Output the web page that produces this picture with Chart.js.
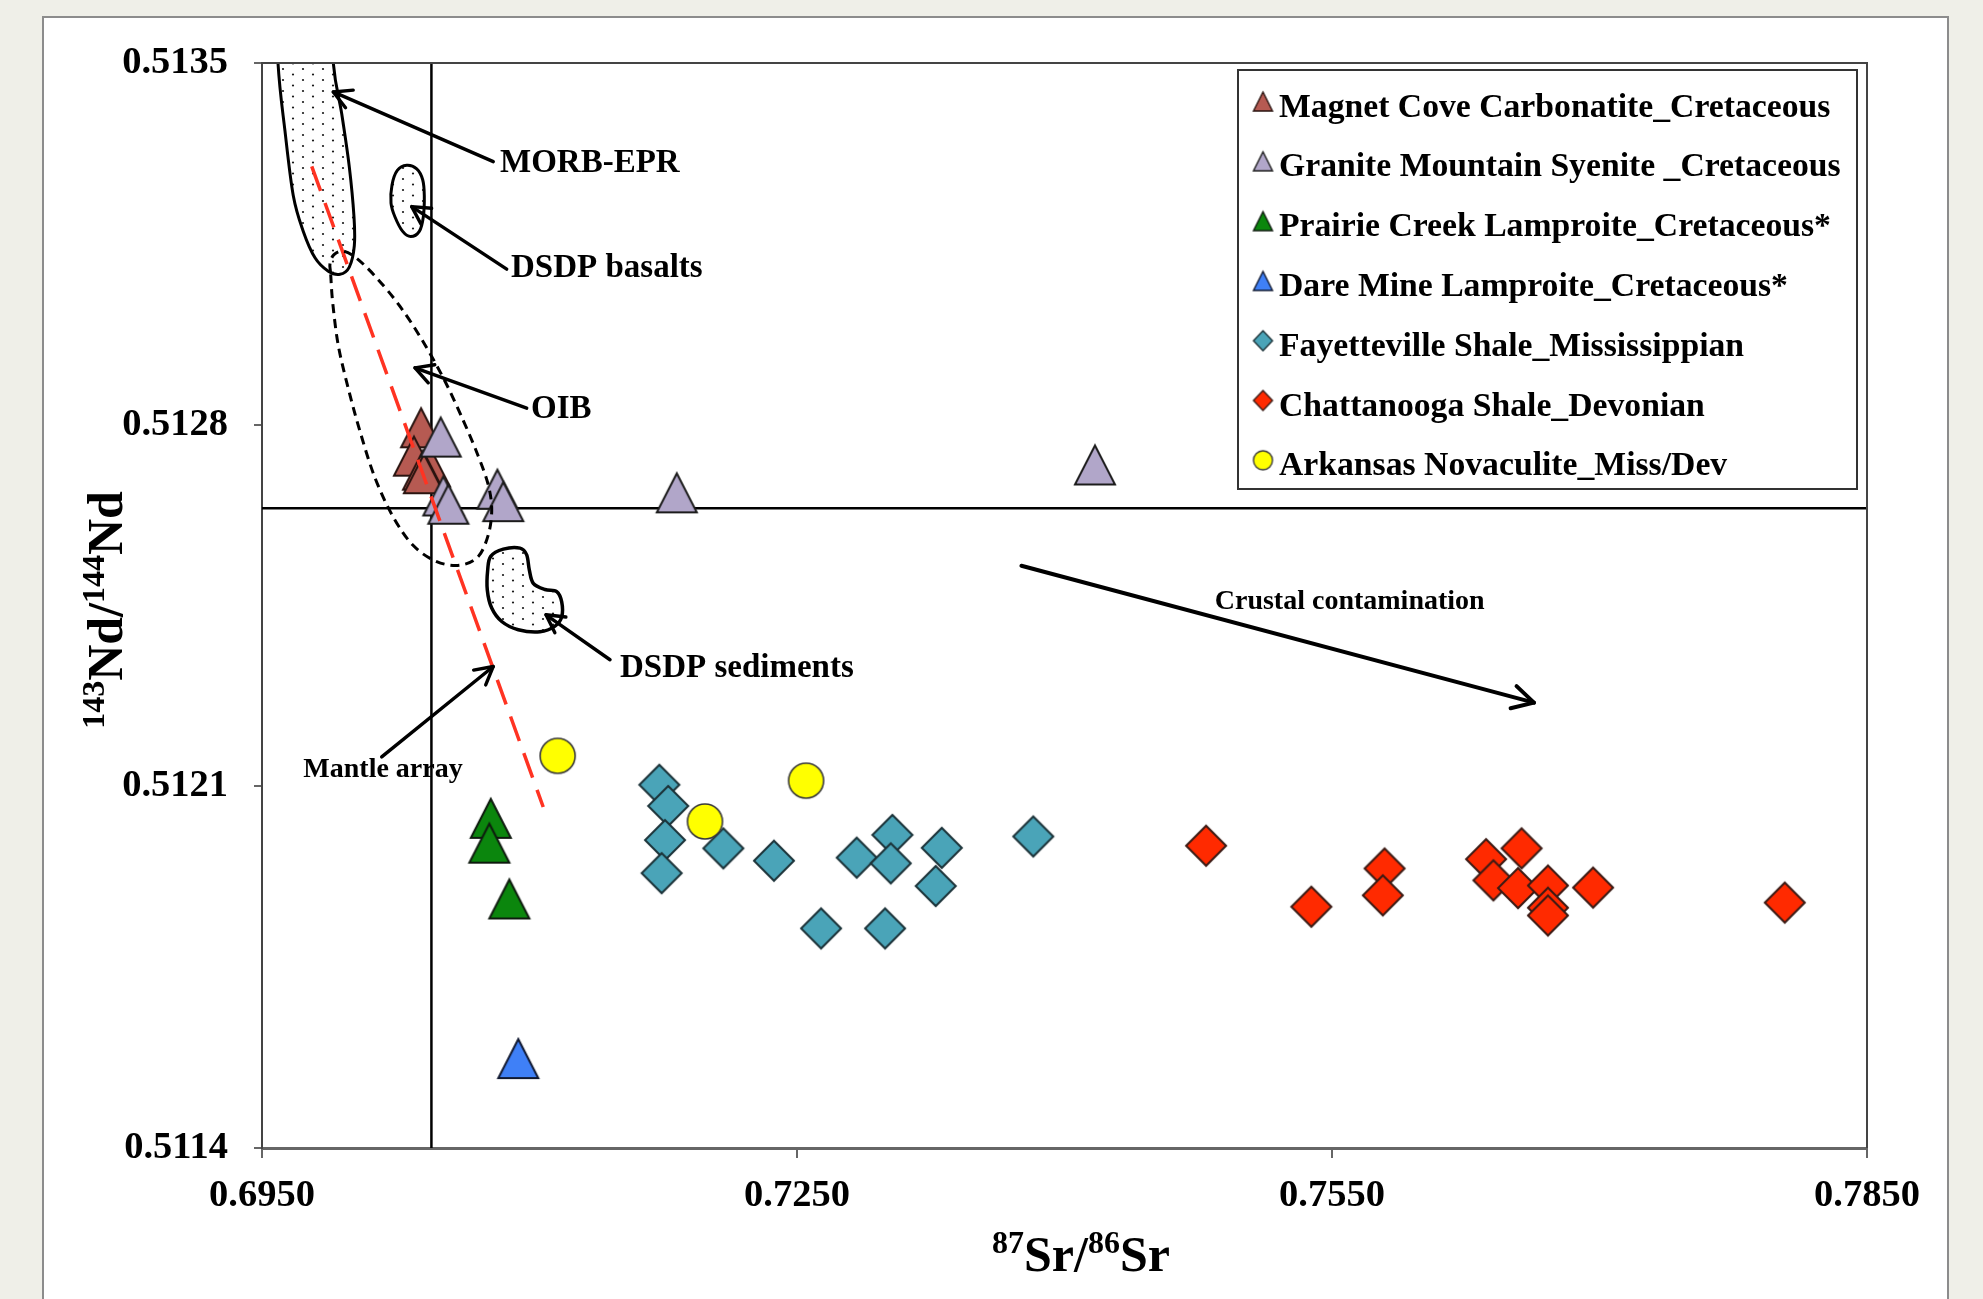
<!DOCTYPE html>
<html>
<head>
<meta charset="utf-8">
<script src="https://cdn.jsdelivr.net/npm/chart.js@4.4.1/dist/chart.umd.min.js"></script>
<style>
  html, body { margin: 0; padding: 0; width: 1983px; height: 1299px; overflow: hidden; background: #efefe8; }
  #panel { position: absolute; left: 42px; top: 16px; width: 1903px; height: 1320px; background: #fff; border: 2px solid #8c8c8c; }
  #chart { position: absolute; left: 0; top: 0; }
</style>
</head>
<body>
<div id="panel"></div>
<canvas id="chart" width="1983" height="1299"></canvas>
<script>
// axis ticks
const srTicks = [0.6950, 0.7250, 0.7550, 0.7850];
const ndTicks = [0.5114, 0.5121, 0.5128, 0.5135];

// bulk earth / CHUR reference lines
const bulkEarthSr = 0.7045;
const churNd = 0.512638;

// mantle array (red dashed line)
const mantleArraySr = [0.69779, 0.71077];
const mantleArrayNd = [0.51330, 0.51206];

// samples, 87Sr/86Sr and 143Nd/144Nd
const magnetCoveSr = [0.70392, 0.70352, 0.70442, 0.70403, 0.70408];
const magnetCoveNd = [0.512794, 0.512739, 0.512718, 0.512712, 0.512705];

const graniteMtnSr = [0.70502, 0.70517, 0.70545, 0.70820, 0.70853, 0.71826, 0.74171];
const graniteMtnNd = [0.512776, 0.512662, 0.512646, 0.512675, 0.512651, 0.512668, 0.512722];

const prairieCreekSr = [0.70783, 0.70775, 0.70887];
const prairieCreekNd = [0.512038, 0.511990, 0.511882];

const dareMineSr = [0.70937];
const dareMineNd = [0.511573];

const fayettevilleSr = [0.71728, 0.71778, 0.71760, 0.71741, 0.72087, 0.72371, 0.72835,
                        0.73035, 0.73026, 0.73312, 0.73278, 0.72635, 0.72994, 0.73825];
const fayettevilleNd = [0.512103, 0.512062, 0.511996, 0.511932, 0.511980, 0.511956, 0.511962,
                        0.512006, 0.511951, 0.511981, 0.511907, 0.511825, 0.511825, 0.512003];

const chattanoogaSr = [0.74794, 0.75384, 0.75795, 0.75785, 0.76364, 0.76563, 0.76405,
                       0.76543, 0.76711, 0.76711, 0.76711, 0.76964, 0.78039];
const chattanoogaNd = [0.511985, 0.511867, 0.511941, 0.511889, 0.511959, 0.511980, 0.511918,
                       0.511903, 0.511908, 0.511865, 0.511850, 0.511904, 0.511875];

const novaculiteSr = [0.71158, 0.71984, 0.72551];
const novaculiteNd = [0.512159, 0.512032, 0.512111];

// reference fields (Sr, Nd outlines)
const morbField = [[0.69572, 0.51370], [0.695897, 0.51350], [0.69629, 0.513368], [0.696755, 0.513243],
  [0.697316, 0.513174], [0.697972, 0.513123], [0.698718, 0.513097], [0.699374, 0.513091],
  [0.699895, 0.513105], [0.700176, 0.513146], [0.700159, 0.513202], [0.699895, 0.513299],
  [0.699469, 0.513402], [0.698998, 0.51350], [0.69870, 0.51370]];
const dsdpBasaltField = [[0.703114, 0.513302], [0.703675, 0.513295], [0.704011, 0.513274], [0.704101, 0.513243],
  [0.704045, 0.513202], [0.703821, 0.513174], [0.703339, 0.513164], [0.702890, 0.513174],
  [0.702458, 0.513202], [0.702234, 0.513229], [0.702290, 0.513264], [0.702587, 0.513292]];
const dsdpSedimentField = [[0.707825, 0.512545], [0.708531, 0.512559], [0.709468, 0.512561], [0.709843, 0.512548],
  [0.709989, 0.512519], [0.710213, 0.512493], [0.710869, 0.512481], [0.711526, 0.512477],
  [0.711806, 0.512457], [0.711806, 0.512428], [0.711430, 0.512410], [0.710589, 0.512399],
  [0.709372, 0.512403], [0.708441, 0.512419], [0.707881, 0.512445], [0.707634, 0.512480],
  [0.707656, 0.512519]];
const oibField = [[0.698852, 0.513091], [0.698965, 0.513036], [0.699279, 0.512953], [0.699839, 0.512870],
  [0.700495, 0.512787], [0.701337, 0.512697], [0.702363, 0.512621], [0.703484, 0.512566],
  [0.704796, 0.512535], [0.706103, 0.512528], [0.707129, 0.512545], [0.707690, 0.512587],
  [0.707881, 0.512635], [0.707690, 0.512683], [0.707129, 0.512739], [0.706288, 0.512808],
  [0.705262, 0.512884], [0.704045, 0.512960], [0.702739, 0.513029], [0.701432, 0.513084],
  [0.700310, 0.513122], [0.699559, 0.513136], [0.699037, 0.513129], [0.698813, 0.513112]];

// annotation labels and arrows: [labelSr, labelNd], arrow [fromSr, fromNd, tipSr, tipNd]
const notes = [
  { text: 'MORB-EPR', at: [0.708346, 0.513305], size: 33, arrow: [0.707970, 0.513309, 0.698998, 0.513444] },
  { text: 'DSDP basalts', at: [0.708963, 0.513103], size: 33, arrow: [0.708722, 0.513101, 0.703394, 0.513222] },
  { text: 'OIB', at: [0.710084, 0.512829], size: 33, arrow: [0.709843, 0.512832, 0.703580, 0.512910] },
  { text: 'DSDP sediments', at: [0.715075, 0.512329], size: 33, arrow: [0.714514, 0.512345, 0.710926, 0.512432] },
  { text: 'Mantle array', at: [0.697316, 0.512132], size: 28, arrow: [0.701712, 0.512157, 0.707970, 0.512332] },
  { text: 'Crustal contamination', at: [0.748424, 0.512457], size: 28, arrow: [0.737584, 0.512527, 0.766324, 0.512262], wide: true }
];

const SERIF = '"Liberation Serif", "Times New Roman", serif';
const font = (s) => 'bold ' + s + 'px ' + SERIF;

function makeMarker(shape, w, h, fill, stroke, lw) {
  const pad = Math.ceil(lw) + 1;
  const c = document.createElement('canvas');
  c.width = w + pad * 2;
  c.height = h + pad * 2;
  const g = c.getContext('2d');
  g.translate(pad, pad);
  g.beginPath();
  if (shape === 'triangle') {
    g.moveTo(w / 2, 0); g.lineTo(w, h); g.lineTo(0, h); g.closePath();
  } else if (shape === 'diamond') {
    g.moveTo(w / 2, 0); g.lineTo(w, h / 2); g.lineTo(w / 2, h); g.lineTo(0, h / 2); g.closePath();
  } else {
    g.ellipse(w / 2, h / 2, w / 2, h / 2, 0, 0, Math.PI * 2);
  }
  g.fillStyle = fill;
  g.fill();
  g.lineWidth = lw;
  g.strokeStyle = stroke;
  g.stroke();
  return c;
}

const groups = [
  { label: 'Magnet Cove Carbonatite_Cretaceous', sr: magnetCoveSr, nd: magnetCoveNd, shape: 'triangle', fill: '#b65a52', stroke: '#2a1410' },
  { label: 'Granite Mountain Syenite _Cretaceous', sr: graniteMtnSr, nd: graniteMtnNd, shape: 'triangle', fill: '#b1a6c9', stroke: '#1c1c1c' },
  { label: 'Prairie Creek Lamproite_Cretaceous*', sr: prairieCreekSr, nd: prairieCreekNd, shape: 'triangle', fill: '#0b860d', stroke: '#0e1a0e' },
  { label: 'Dare Mine Lamproite_Cretaceous*', sr: dareMineSr, nd: dareMineNd, shape: 'triangle', fill: '#3f80f7', stroke: '#101830' },
  { label: 'Fayetteville Shale_Mississippian', sr: fayettevilleSr, nd: fayettevilleNd, shape: 'diamond', fill: '#4aa4b8', stroke: '#1b3238' },
  { label: 'Chattanooga Shale_Devonian', sr: chattanoogaSr, nd: chattanoogaNd, shape: 'diamond', fill: '#ff2a00', stroke: '#3a1a14' },
  { label: 'Arkansas Novaculite_Miss/Dev', sr: novaculiteSr, nd: novaculiteNd, shape: 'circle', fill: '#ffff00', stroke: '#3a3a3a' }
];

const pointSize = { triangle: [40, 39], diamond: [40, 40], circle: [35, 35] };

const datasets = groups.map((gr, i) => {
  const [w, h] = pointSize[gr.shape];
  const lw = gr.shape === 'circle' ? 1.6 : 2;
  return {
    label: gr.label,
    data: gr.sr.map((x, k) => ({ x: x, y: gr.nd[k] })),
    pointStyle: makeMarker(gr.shape, w, h, gr.fill, gr.stroke, lw),
    pointRadius: 20,
    order: 20 - i,
    legendMarker: makeMarker(gr.shape, 19, gr.shape === 'diamond' ? 20 : 19, gr.fill, gr.stroke, 1.4)
  };
});

datasets.push({
  data: [{ x: bulkEarthSr, y: ndTicks[0] }, { x: bulkEarthSr, y: ndTicks[ndTicks.length - 1] }],
  showLine: true, borderColor: '#000', borderWidth: 2.5, pointRadius: 0, order: 100
});
datasets.push({
  data: [{ x: srTicks[0], y: churNd }, { x: srTicks[srTicks.length - 1], y: churNd }],
  showLine: true, borderColor: '#000', borderWidth: 2.5, pointRadius: 0, order: 100
});
datasets.push({
  data: mantleArraySr.map((x, k) => ({ x: x, y: mantleArrayNd[k] })),
  showLine: true, borderColor: '#ff3322', borderWidth: 3.5, borderDash: [26, 13], pointRadius: 0, order: 0
});

function smoothClosed(ctx, pts) {
  const n = pts.length;
  ctx.moveTo(pts[0][0], pts[0][1]);
  for (let i = 0; i < n; i++) {
    const p0 = pts[(i - 1 + n) % n], p1 = pts[i], p2 = pts[(i + 1) % n], p3 = pts[(i + 2) % n];
    ctx.bezierCurveTo(
      p1[0] + (p2[0] - p0[0]) / 6, p1[1] + (p2[1] - p0[1]) / 6,
      p2[0] - (p3[0] - p1[0]) / 6, p2[1] - (p3[1] - p1[1]) / 6,
      p2[0], p2[1]);
  }
  ctx.closePath();
}

function stipple(ctx) {
  const t = document.createElement('canvas');
  t.width = 20; t.height = 22;
  const g = t.getContext('2d');
  g.fillStyle = '#1a1a1a';
  [[3, 3], [3, 14], [13, 8.5], [13, 19.5]].forEach(([x, y]) => {
    g.beginPath(); g.arc(x, y, 1.1, 0, Math.PI * 2); g.fill();
  });
  return ctx.createPattern(t, 'repeat');
}

function arrow(ctx, x1, y1, x2, y2, len) {
  ctx.beginPath(); ctx.moveTo(x1, y1); ctx.lineTo(x2, y2); ctx.stroke();
  const a = Math.atan2(y2 - y1, x2 - x1), sp = 0.5;
  ctx.beginPath();
  ctx.moveTo(x2 - len * Math.cos(a - sp), y2 - len * Math.sin(a - sp));
  ctx.lineTo(x2, y2);
  ctx.lineTo(x2 - len * Math.cos(a + sp), y2 - len * Math.sin(a + sp));
  ctx.stroke();
}

function supText(ctx, parts, cx, base) {
  let total = 0;
  parts.forEach(p => { ctx.font = font(p[1]); total += ctx.measureText(p[0]).width; });
  let x = cx - total / 2;
  ctx.textAlign = 'left';
  ctx.textBaseline = 'alphabetic';
  parts.forEach(p => {
    ctx.font = font(p[1]);
    ctx.fillText(p[0], x, base - p[2]);
    x += ctx.measureText(p[0]).width;
  });
}

const decor = {
  id: 'decor',
  beforeDatasetsDraw(chart) {
    const { ctx, chartArea: ca, scales: { x, y } } = chart;
    const px = (p) => [x.getPixelForValue(p[0]), y.getPixelForValue(p[1])];
    ctx.save();
    ctx.beginPath(); ctx.rect(ca.left, ca.top, ca.right - ca.left, ca.bottom - ca.top); ctx.clip();
    const pat = stipple(ctx);
    [[morbField, 3], [dsdpBasaltField, 3], [dsdpSedimentField, 3.5]].forEach(([f, lw]) => {
      ctx.beginPath();
      smoothClosed(ctx, f.map(px));
      ctx.fillStyle = pat; ctx.fill();
      ctx.lineWidth = lw; ctx.strokeStyle = '#000'; ctx.stroke();
    });
    ctx.restore();
  },
  afterDatasetsDraw(chart) {
    const { ctx, chartArea: ca, scales: { x, y } } = chart;
    const px = (p) => [x.getPixelForValue(p[0]), y.getPixelForValue(p[1])];
    ctx.save();
    // OIB dashed field
    ctx.beginPath();
    smoothClosed(ctx, oibField.map(px));
    ctx.setLineDash([9, 6]); ctx.lineWidth = 3; ctx.strokeStyle = '#000'; ctx.stroke();
    ctx.setLineDash([]);
    // plot frame top / right
    ctx.lineWidth = 2; ctx.strokeStyle = '#444';
    ctx.beginPath();
    ctx.moveTo(ca.left, ca.top); ctx.lineTo(ca.right, ca.top); ctx.lineTo(ca.right, ca.bottom);
    ctx.stroke();
    // arrows and labels
    ctx.lineCap = 'round'; ctx.lineJoin = 'round';
    notes.forEach(n => {
      const a = n.arrow;
      const [x1, y1] = px([a[0], a[1]]), [x2, y2] = px([a[2], a[3]]);
      ctx.lineWidth = n.wide ? 4 : 3.4;
      ctx.strokeStyle = '#000';
      arrow(ctx, x1, y1, x2, y2, n.wide ? 24 : 20);
      const [tx, ty] = px(n.at);
      ctx.font = font(n.size);
      ctx.fillStyle = '#000';
      ctx.textAlign = 'left'; ctx.textBaseline = 'middle';
      ctx.fillText(n.text, tx, ty);
    });
    ctx.restore();
  },
  afterDraw(chart) {
    const { ctx } = chart;
    ctx.save();
    // legend
    ctx.fillStyle = '#fff';
    ctx.fillRect(1238, 70, 619, 419);
    ctx.lineWidth = 2; ctx.strokeStyle = '#333';
    ctx.strokeRect(1238, 70, 619, 419);
    let row = 0;
    chart.data.datasets.forEach(ds => {
      if (!ds.legendMarker) return;
      const base = 116.5 + row * 59.8;
      const m = ds.legendMarker;
      ctx.drawImage(m, 1263 - m.width / 2, base - 15 - m.height / 2);
      ctx.font = font(33.7);
      ctx.fillStyle = '#000';
      ctx.textAlign = 'left'; ctx.textBaseline = 'alphabetic';
      ctx.fillText(ds.label, 1279, base);
      row++;
    });
    // axis titles with superscripts
    ctx.fillStyle = '#000';
    supText(ctx, [['87', 32, 18], ['Sr/', 50, 0], ['86', 32, 18], ['Sr', 50, 0]], 1081, 1271);
    ctx.translate(122, 610);
    ctx.rotate(-Math.PI / 2);
    supText(ctx, [['143', 32, 18], ['Nd/', 50, 0], ['144', 32, 18], ['Nd', 50, 0]], 0, 0);
    ctx.restore();
  }
};

new Chart(document.getElementById('chart'), {
  type: 'scatter',
  data: { datasets: datasets },
  options: {
    responsive: false,
    animation: false,
    devicePixelRatio: 1,
    events: [],
    layout: { padding: { left: 0, top: 63, right: 116, bottom: 0 } },
    plugins: { legend: { display: false }, tooltip: { enabled: false } },
    scales: {
      x: {
        type: 'linear',
        min: srTicks[0],
        max: srTicks[srTicks.length - 1],
        afterBuildTicks: (ax) => { ax.ticks = srTicks.map(v => ({ value: v })); },
        afterFit: (ax) => { ax.height = 151; },
        grid: { display: true, drawOnChartArea: false, drawTicks: true, tickLength: 10, color: '#666', lineWidth: 2 },
        border: { display: true, color: '#666', width: 3 },
        ticks: { autoSkip: false, maxRotation: 0, padding: 15, color: '#000', font: { family: SERIF, size: 38.5, weight: 'bold' }, callback: (v) => v.toFixed(4) }
      },
      y: {
        type: 'linear',
        min: ndTicks[0],
        max: ndTicks[ndTicks.length - 1],
        afterBuildTicks: (ax) => { ax.ticks = ndTicks.map(v => ({ value: v })); },
        afterFit: (ax) => { ax.width = 262; },
        grid: { display: true, drawOnChartArea: false, drawTicks: true, tickLength: 8, color: '#666', lineWidth: 2 },
        border: { display: true, color: '#444', width: 2 },
        ticks: { autoSkip: false, padding: 26, color: '#000', font: { family: SERIF, size: 38.5, weight: 'bold' }, callback: (v) => v.toFixed(4) }
      }
    }
  },
  plugins: [decor]
});
</script>
</body>
</html>
